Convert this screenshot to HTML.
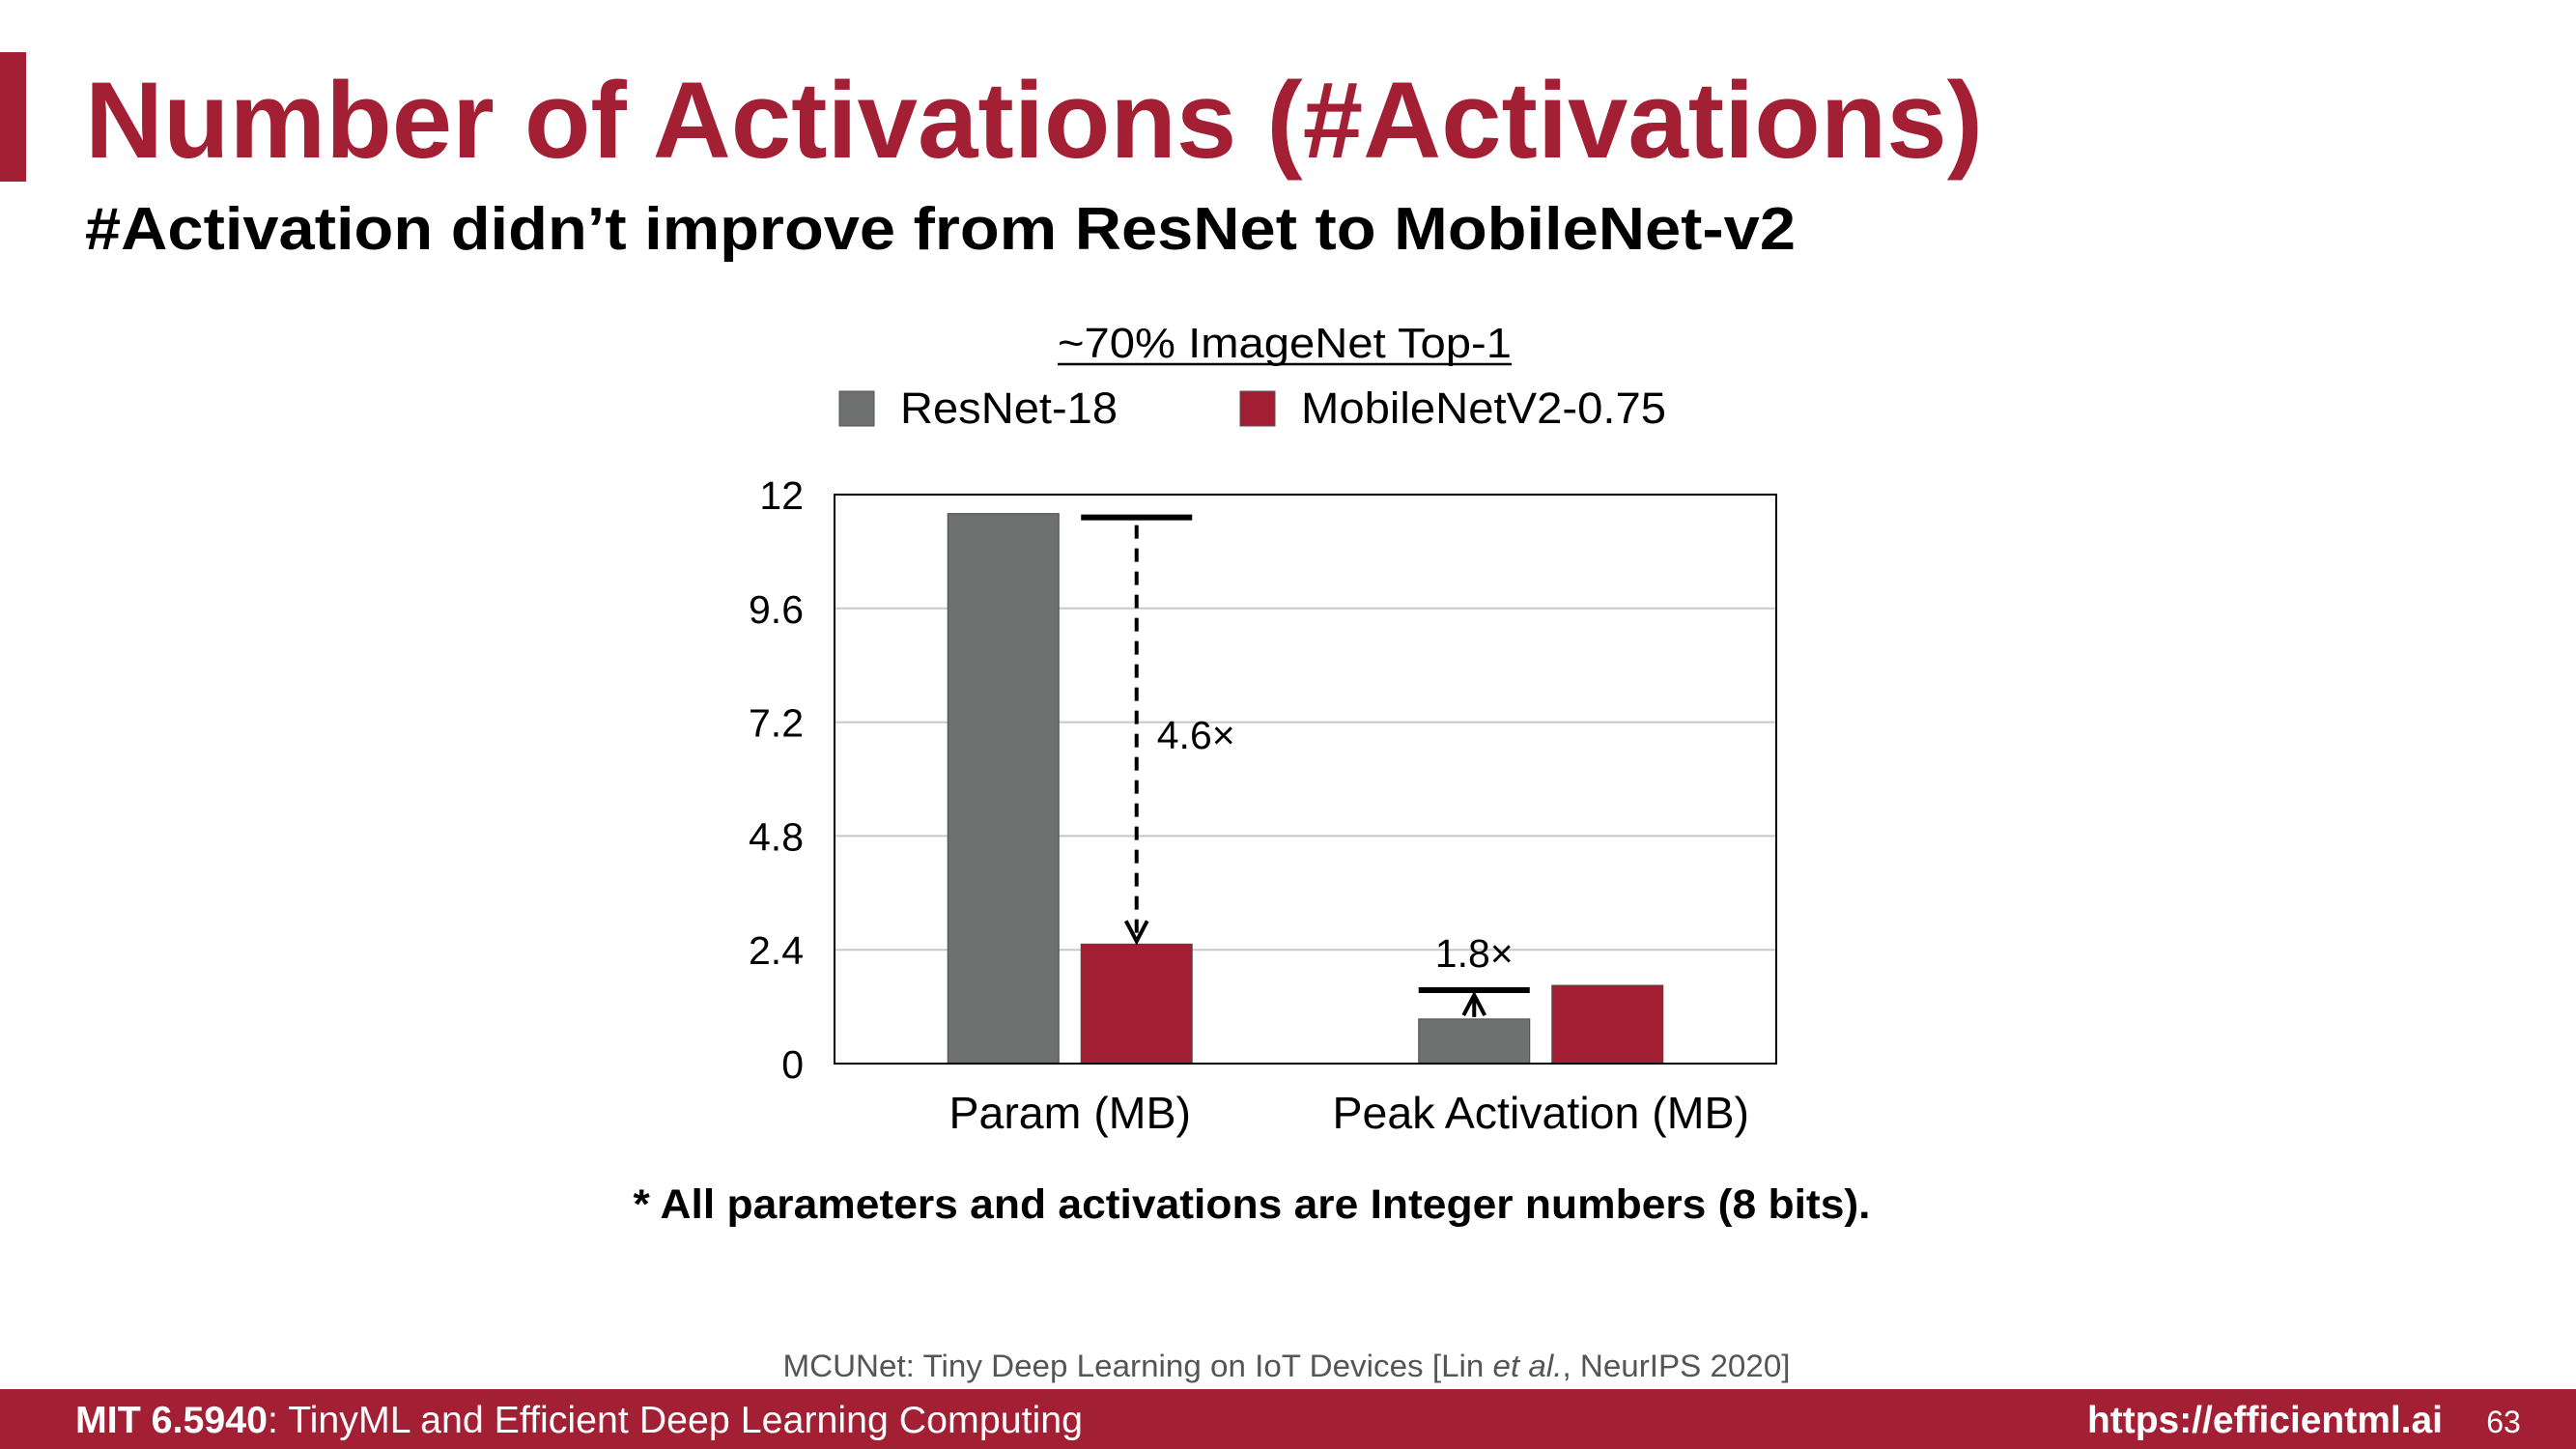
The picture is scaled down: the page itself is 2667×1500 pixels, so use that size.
<!DOCTYPE html>
<html><head><meta charset="utf-8"><style>
html,body{margin:0;padding:0;background:#fff;}
svg{display:block;font-family:"Liberation Sans",Arial,sans-serif;}
</style></head><body>
<svg id="slide" width="2667" height="1500" viewBox="0 0 2667 1500" xmlns="http://www.w3.org/2000/svg">
  <rect x="0" y="54" width="27" height="134" fill="#a31f34"/>
  <text x="88" y="163" font-size="112" font-weight="bold" fill="#a31f34" textLength="1965" lengthAdjust="spacingAndGlyphs">Number of Activations (#Activations)</text>
  <text x="88" y="258" font-size="62" font-weight="bold" fill="#000" textLength="1771" lengthAdjust="spacingAndGlyphs">#Activation didn’t improve from ResNet to MobileNet-v2</text>

  <text x="1330" y="370" font-size="44" text-anchor="middle" fill="#000" textLength="470" lengthAdjust="spacingAndGlyphs">~70% ImageNet Top-1</text>
  <line x1="1095" y1="377" x2="1565" y2="377" stroke="#000" stroke-width="2.5"/>

  <g>
    <g>
      <rect x="869" y="405" width="36" height="36" fill="#6d706e" stroke="#555" stroke-width="1"/>
      <text x="932" y="438" font-size="45" fill="#000" textLength="225" lengthAdjust="spacingAndGlyphs">ResNet-18</text>
    </g>
    <g>
      <rect x="1284" y="405" width="36" height="36" fill="#a21e32" stroke="#555" stroke-width="1"/>
      <text x="1347" y="438" font-size="45" fill="#000" textLength="378" lengthAdjust="spacingAndGlyphs">MobileNetV2-0.75</text>
    </g>
  </g>

  <g id="chart"></g>

  <text x="1296" y="1261" font-size="43" font-weight="bold" text-anchor="middle" fill="#000" textLength="1281" lengthAdjust="spacingAndGlyphs">* All parameters and activations are Integer numbers (8 bits).</text>

  <text x="1332" y="1425" font-size="32" text-anchor="middle" fill="#555" textLength="1043" lengthAdjust="spacingAndGlyphs">MCUNet: Tiny Deep Learning on IoT Devices [Lin <tspan font-style="italic">et al.</tspan>, NeurIPS 2020]</text>

  <rect x="0" y="1438" width="2667" height="62" fill="#a31f34"/>
  <text x="78" y="1483" font-size="39" fill="#fff" textLength="1043" lengthAdjust="spacingAndGlyphs"><tspan font-weight="bold">MIT 6.5940</tspan>: TinyML and Efficient Deep Learning Computing</text>
  <text x="2529" y="1483" font-size="39" font-weight="bold" fill="#fff" text-anchor="end" textLength="368" lengthAdjust="spacingAndGlyphs">https://efficientml.ai</text>
  <text x="2592" y="1483" font-size="32" fill="#fff" text-anchor="middle">63</text>
</svg>
<script>
const categories = ["Param (MB)", "Peak Activation (MB)"];
const resnetValues = [11.6, 0.94];
const mobilenetValues = [2.52, 1.65];
const yTicks = [0, 2.4, 4.8, 7.2, 9.6, 12];
const yTickLabels = ["0", "2.4", "4.8", "7.2", "9.6", "12"];
const ratioLabels = ["4.6×", "1.8×"];

const NS = "http://www.w3.org/2000/svg";
const g = document.getElementById("chart");
const L = 864, R = 1839, T = 512, B = 1101, yMax = 12;
function y(v){ return B - (v / yMax) * (B - T); }
function xc(i){ return L + (R - L) / categories.length * (i + 0.5); }
function mk(tag, attrs){ const e = document.createElementNS(NS, tag); for (const k in attrs) e.setAttribute(k, attrs[k]); g.appendChild(e); return e; }

yTicks.forEach((t, i) => {
  if (t > 0 && t < yMax) {
    const gl = mk("line", {x1:L, x2:R, y1:y(t), y2:y(t), stroke:"#c8c8c8", "stroke-width":2});
    
    
  }
  const tl = mk("text", {x:832, y:y(t)+15, "font-size":41, "text-anchor":"end", fill:"#000"});
  tl.textContent = yTickLabels[i];
  
  
});

const bw = 115, off = 69;
categories.forEach((c, i) => {
  const cx = xc(i);
  const b1 = mk("rect", {x:cx-off-bw/2, y:y(resnetValues[i]), width:bw, height:B-y(resnetValues[i]), fill:"#6d706e", stroke:"#4a4a4a", "stroke-width":1});
  
  
  const b2 = mk("rect", {x:cx+off-bw/2, y:y(mobilenetValues[i]), width:bw, height:B-y(mobilenetValues[i]), fill:"#a21e32", stroke:"#4a4a4a", "stroke-width":1});
  
  
  const cl = mk("text", {x:cx, y:1168, "font-size":46.5, "text-anchor":"middle", fill:"#000"});
  cl.textContent = c;
  
  
});

const frame = mk("rect", {x:L, y:T, width:R-L, height:B-T, fill:"none", stroke:"#000", "stroke-width":2});



// Param annotation
{
  const cx = xc(0) + off, top = y(resnetValues[0]) + 4;
  const h = mk("line", {x1:cx-bw/2, x2:cx+bw/2, y1:top, y2:top, stroke:"#000", "stroke-width":6});
  
  
  const d = mk("line", {x1:cx, x2:cx, y1:top+8, y2:y(mobilenetValues[0])-4, stroke:"#000", "stroke-width":4, "stroke-dasharray":"14 10"});
  
  
  const ah = mk("path", {d:`M${cx-11} ${y(mobilenetValues[0])-24} L${cx} ${y(mobilenetValues[0])-3} L${cx+11} ${y(mobilenetValues[0])-24}`, fill:"none", stroke:"#000", "stroke-width":4});
  
  
  const t = mk("text", {x:cx+21, y:775, "font-size":41, fill:"#000"});
  t.textContent = ratioLabels[0];
  
  
}
// Peak activation annotation
{
  const cx = xc(1) - off, lv = y(mobilenetValues[1]) + 5;
  const h = mk("line", {x1:cx-bw/2, x2:cx+bw/2, y1:lv, y2:lv, stroke:"#000", "stroke-width":6});
  
  
  const a = mk("line", {x1:cx, x2:cx, y1:y(resnetValues[1])-2, y2:lv+6, stroke:"#000", "stroke-width":4});
  
  
  const ah = mk("path", {d:`M${cx-11} ${lv+26} L${cx} ${lv+5} L${cx+11} ${lv+26}`, fill:"none", stroke:"#000", "stroke-width":4});
  
  
  const t = mk("text", {x:cx, y:1001, "font-size":41, "text-anchor":"middle", fill:"#000"});
  t.textContent = ratioLabels[1];
  
  
}
</script>
</body></html>
